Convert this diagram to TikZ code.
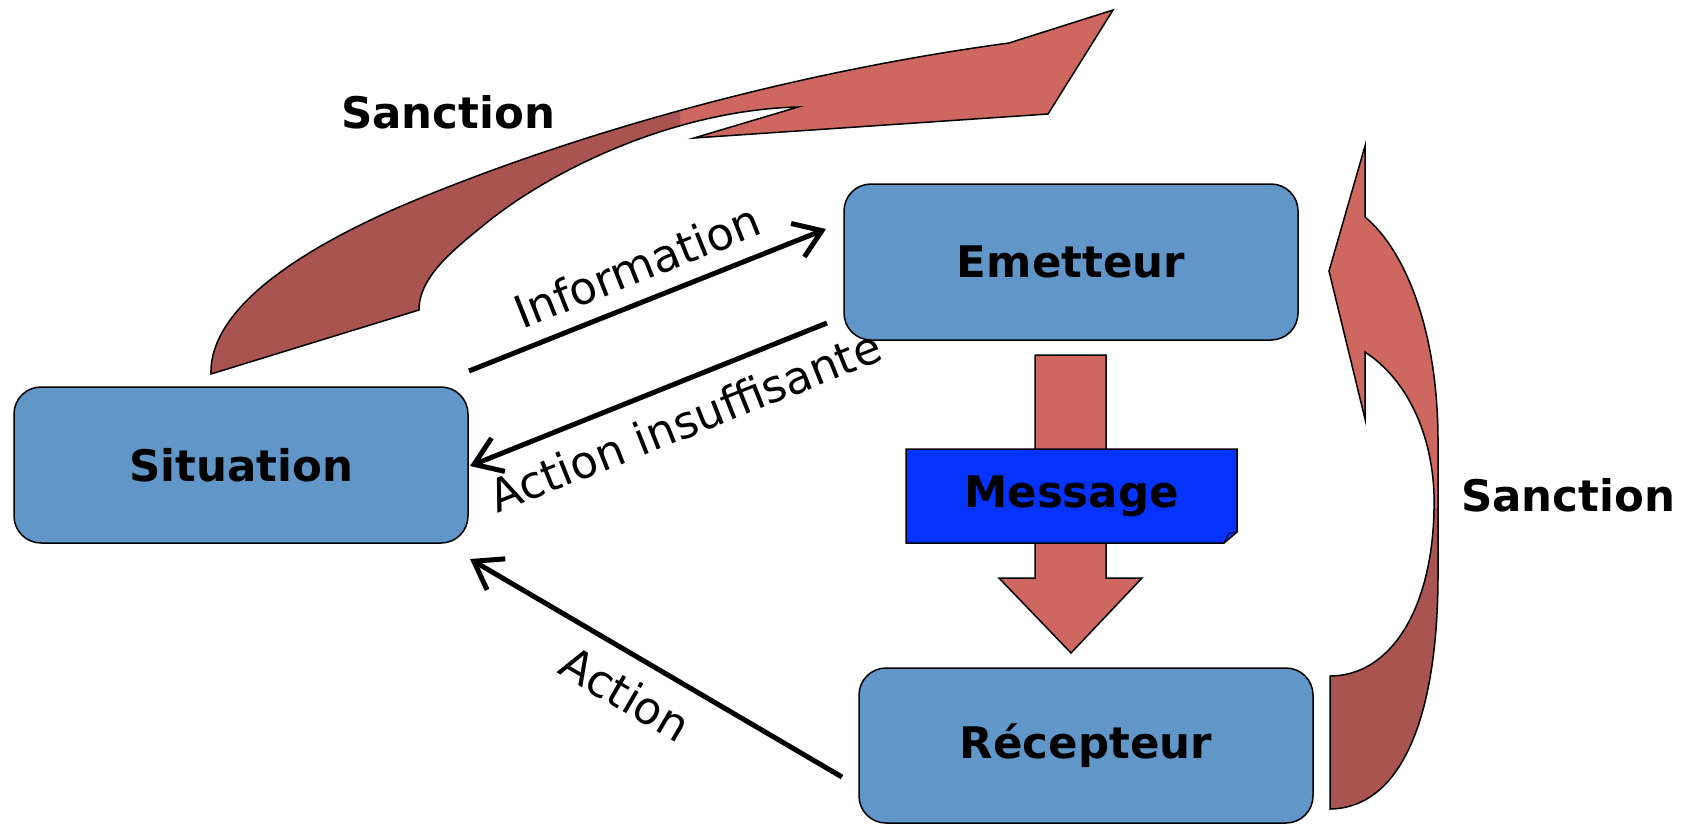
\documentclass[tikz,border=0pt]{standalone}
\usepackage{fontspec}
\setmainfont{DejaVu Sans}
\usetikzlibrary{arrows.meta,calc}
\definecolor{boxblue}{RGB}{97,150,200}
\definecolor{sanctionlight}{RGB}{205,103,96}
\definecolor{sanctiondark}{RGB}{169,84,80}
\definecolor{messageblue}{RGB}{5,51,255}

% outlines of the two curved arrows
\def\sanctiontop{(211,374) -- (419,310) .. controls (419,275) and (457,247) .. (490,220) .. controls (560,165) and (680,110) .. (798,107) -- (694,138) -- (1048,114) -- (1113,10) -- (1009,43) .. controls (809,70) and (600,125) .. (423,197) .. controls (317,240) and (209,303) .. (211,374) -- cycle}
\def\sanctionright{(1365,146) -- (1329,271) -- (1365,419) -- (1365,352) .. controls (1415,385) and (1436,450) .. (1434,510) .. controls (1432,610) and (1390,676) .. (1330,676) -- (1330,809) .. controls (1400,808) and (1438,720) .. (1438,574) -- (1438,441) .. controls (1438,330) and (1405,250) .. (1365,217) -- cycle}

\begin{document}
\begin{tikzpicture}[x=1pt, y=-1pt,
    box/.style={draw, line width=1.5pt, rounded corners=27pt, fill=boxblue, minimum width=454pt, minimum height=156pt, font=\fontsize{43.5}{52}\selectfont\bfseries},
    bold/.style={font=\fontsize{43.5}{52}\selectfont\bfseries},
    lbl/.style={font=\fontsize{45}{54}\selectfont, inner sep=0pt},
    flow/.style={line width=5pt, -{Straight Barb[length=26pt, width=36pt]}},
    outline/.style={draw, line width=1.5pt, line join=miter}]
  \useasboundingbox (0,0) rectangle (1686,825);

  % Sanction arrows
  \fill[sanctionlight] \sanctiontop;
  \begin{scope}
    \clip (0,0) rectangle (680,400);
    \fill[sanctiondark] \sanctiontop;
  \end{scope}
  \draw[outline] \sanctiontop;
  \fill[sanctionlight] \sanctionright;
  \begin{scope}
    \clip (1300,508) rectangle (1500,825);
    \fill[sanctiondark] \sanctionright;
  \end{scope}
  \draw[outline] \sanctionright;
  \node[bold] (sanction-top) at (448,112) {Sanction};
  \node[bold] (sanction-right) at (1568,495) {Sanction};

  % Boxes
  \node[box] (situation) at (241,465) {Situation};
  \node[box] (emetteur) at (1071,262) {Emetteur};
  \node[box, minimum height=155pt] (recepteur) at (1086,745.5) {Récepteur};

  % Message
  \draw[outline, fill=sanctionlight] (1035,355) -- (1106,355) -- (1106,578) -- (1142,578) -- (1071,653) -- (999,578) -- (1035,578) -- cycle;
  \draw[outline, fill=messageblue] (906,449) -- (1237,449) -- (1237,532) -- (1224,543) -- (906,543) -- cycle;
  \draw[line width=1pt] (1224,543) -- (1227,536) .. controls (1229,533) .. (1237,532);
  \node[bold] (message) at (1071.5,496) {Message};

  % Flows
  \coordinate (info-from) at (469,371);
  \coordinate (info-to) at (826,229);
  \coordinate (insuff-from) at (827,323);
  \coordinate (insuff-to) at (470,466);
  \coordinate (action-from) at (842,777);
  \coordinate (action-to) at (470,559);
  \draw[flow] (info-from) -- (info-to);
  \draw[flow] (insuff-from) -- (insuff-to);
  \draw[flow] (action-from) -- (action-to);
  \node[lbl, rotate=21.7] (info-label) at (637,266) {Information};
  \node[lbl, rotate=21.7] (insuff-label) at (685,421) {Action insuffisante};
  \node[lbl, rotate=-30.4] (action-label) at (626,694) {Action};
\end{tikzpicture}
\end{document}
